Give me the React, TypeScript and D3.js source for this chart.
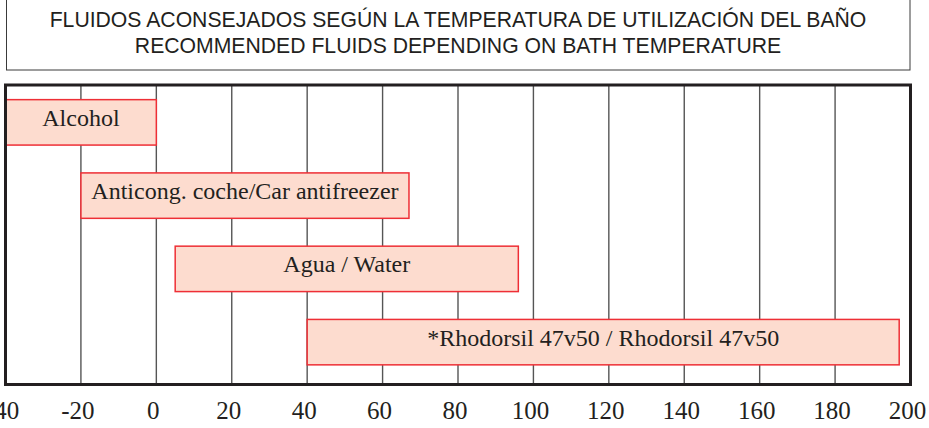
import React from 'react';
import * as d3 from 'd3';

// fluids and their usable temperature range (°C)
const fluids = [
  'Alcohol',
  'Anticong. coche/Car antifreezer',
  'Agua / Water',
  '*Rhodorsil 47v50 / Rhodorsil 47v50',
];
const minTemps = [-40, -20, 5, 40];
const maxTemps = [0, 67, 96, 197];
const tickValues = [-40, -20, 0, 20, 40, 60, 80, 100, 120, 140, 160, 180, 200];
const titleLines = [
  'FLUIDOS ACONSEJADOS SEGÚN LA TEMPERATURA DE UTILIZACIÓN DEL BAÑO',
  'RECOMMENDED FLUIDS DEPENDING ON BATH TEMPERATURE',
];

const W = 929;
const H = 428;
const INK = '#231f20';

const App: React.FC = () => {
  const plotLeft = 5.5;
  const plotRight = 910.5;
  const plotTop = 85;
  const plotBottom = 384.5;

  const x = d3.scaleLinear().domain([-40, 200]).range([plotLeft, plotRight]);
  // bars sit a bit higher than an even split of the frame
  const y = d3
    .scaleBand<string>()
    .domain(fluids)
    .range([plotTop, plotBottom - 5])
    .paddingInner(0.38)
    .paddingOuter(0.2);

  const titleMid = (6 + 910) / 2;

  return (
    <svg
      width={W}
      height={H}
      style={{ position: 'absolute', left: 0, top: 0, background: '#fff' }}
    >
      {/* title box, its top edge runs off the page */}
      <rect x={6.5} y={-5} width={903.5} height={75} fill="none" stroke="#3a3a3a" strokeWidth={1} />
      {titleLines.map((t, i) => (
        <text
          key={t}
          x={titleMid}
          y={27 + i * 26}
          textAnchor="middle"
          fontFamily="'Liberation Sans', Arial, sans-serif"
          fontSize={21.2}
          fill={INK}
        >
          {t}
        </text>
      ))}

      {/* vertical grid */}
      {tickValues.slice(1, -1).map((v) => (
        <line
          key={v}
          x1={x(v)}
          x2={x(v)}
          y1={plotTop}
          y2={plotBottom}
          stroke="#555"
          strokeWidth={1.4}
        />
      ))}

      {/* fluid bars */}
      {fluids.map((f, i) => {
        const x0 = x(minTemps[i]);
        const x1 = x(maxTemps[i]);
        const yy = y(f) ?? 0;
        return (
          <g key={f}>
            <rect
              x={x0}
              y={yy}
              width={x1 - x0}
              height={y.bandwidth()}
              fill="#fddccf"
              stroke="#ee2f36"
              strokeWidth={1.5}
            />
            <text
              x={(x0 + x1) / 2}
              y={yy + y.bandwidth() / 2}
              dy="0.15em"
              textAnchor="middle"
              fontFamily="'Liberation Serif', 'Times New Roman', serif"
              fontSize={24}
              fill={INK}
            >
              {f}
            </text>
          </g>
        );
      })}

      {/* frame */}
      <rect
        x={plotLeft}
        y={plotTop}
        width={plotRight - plotLeft}
        height={plotBottom - plotTop}
        fill="none"
        stroke={INK}
        strokeWidth={3}
      />

      {/* tick labels */}
      {tickValues.map((v) => (
        <text
          key={v}
          x={x(v) - 3}
          y={419}
          textAnchor="middle"
          fontFamily="'Liberation Serif', 'Times New Roman', serif"
          fontSize={25}
          fill={INK}
        >
          {v}
        </text>
      ))}
    </svg>
  );
};

export default App;
